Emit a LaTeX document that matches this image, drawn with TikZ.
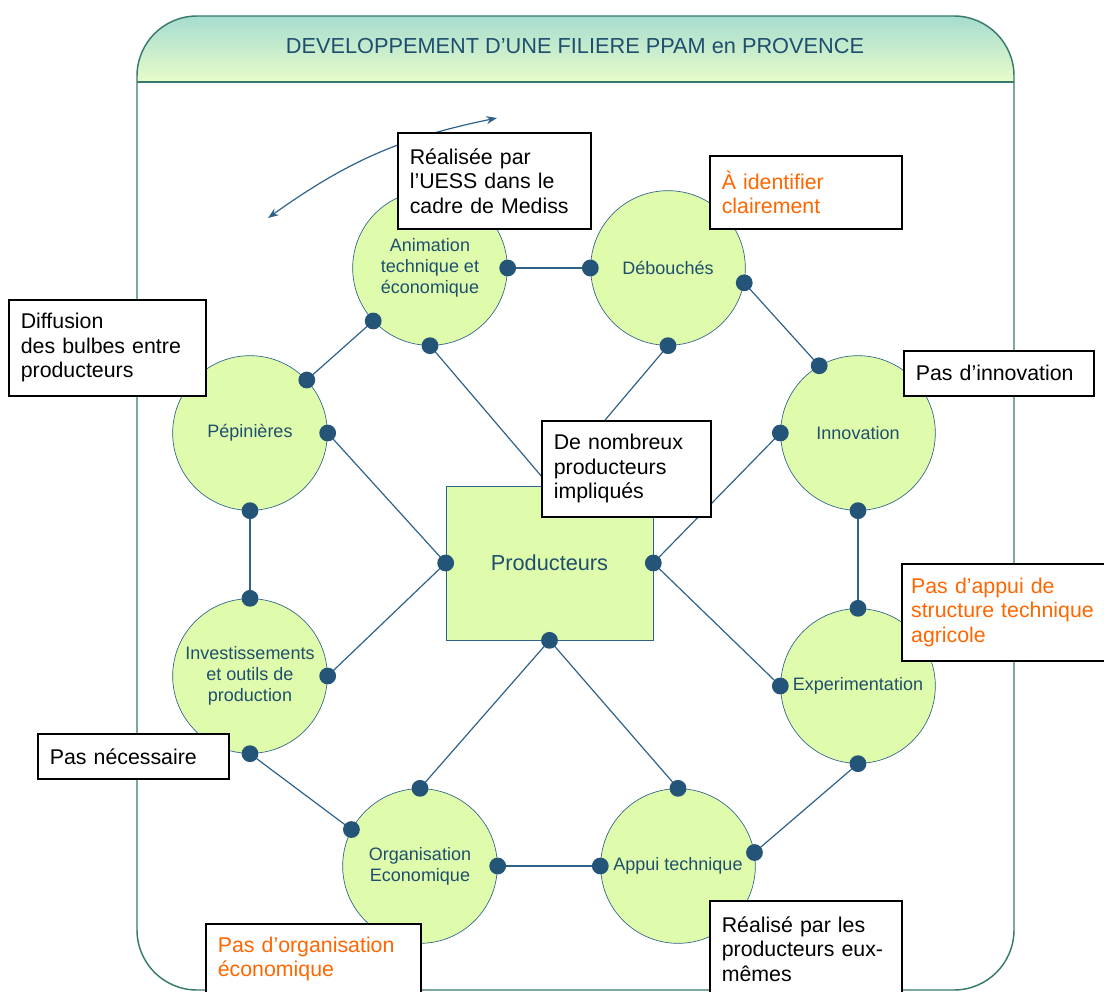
\documentclass[tikz,border=0pt]{standalone}
\usepackage{fontspec}
\setmainfont{Liberation Sans}
\usepackage{tikz}
\usetikzlibrary{arrows.meta,backgrounds,calc}
\definecolor{hdtop}{RGB}{166,220,208}
\definecolor{hdbot}{RGB}{232,252,202}
\definecolor{cadre}{RGB}{56,122,110}
\definecolor{vert}{RGB}{223,252,172}
\definecolor{bleu}{RGB}{36,84,120}
\definecolor{trait}{RGB}{46,98,138}
\definecolor{texte}{RGB}{31,78,110}
\definecolor{orangec}{RGB}{255,102,0}
\hyphenpenalty=10000

\begin{document}
\begin{tikzpicture}[x=0.75pt,y=-0.75pt,
  bulle/.style={circle,draw=trait,line width=0.5pt,fill=vert,minimum size=116pt,inner sep=0pt,
    align=center,text=texte,font=\fontsize{13.5}{15.8}\selectfont},
  lien/.style={draw=trait,line width=0.9pt},
  callout/.style={draw=black,line width=1.2pt,fill=white,anchor=north west,align=left,
    inner xsep=9pt,inner ysep=2pt,font=\fontsize{16}{18.4}\selectfont}]
\useasboundingbox (0,0) rectangle (1104,992);

% cadre et bandeau
\begin{scope}
\clip[rounded corners=45pt] (137,16) rectangle (1014,990);
\shade[top color=hdtop,bottom color=hdbot] (137,16) rectangle (1014,82);
\end{scope}
\draw[cadre,line width=1.1pt,rounded corners=45pt] (137,16) rectangle (1014,990);
\draw[cadre,line width=1.1pt] (137,82) -- (1014,82);
\node[text=texte,font=\fontsize{16.3}{19}\selectfont] (titre) at (575,46) {DEVELOPPEMENT D’UNE FILIERE PPAM en PROVENCE};

% bulles
\node[bulle] (anim) at (430,268) {Animation\\technique et\\économique};
\node[bulle] (debou) at (668,268) {Débouchés};
\node[bulle] (innov) at (858,433) {Innovation};
\node[bulle] (exper) at (858,686) {Experimentation};
\node[bulle] (appui) at (678,866) {Appui technique};
\node[bulle] (orga) at (420,866) {Organisation\\Economique};
\node[bulle] (invest) at (250,676) {Investissements\\et outils de\\production};
\node[bulle] (pepin) at (250,433) {Pépinières};
\node[draw=trait,line width=0.5pt,fill=vert,minimum width=155.25pt,minimum height=115.5pt,
  text=texte,font=\fontsize{16.3}{19}\selectfont] (prod) at (549.5,563) {Producteurs};

% liens
\draw[lien] (anim.0) -- (debou.180);
\draw[lien] (debou.349) -- (innov.120);
\draw[lien] (innov.270) -- (exper.90);
\draw[lien] (exper.270) -- (appui.10);
\draw[lien] (appui.180) -- (orga.0);
\draw[lien] (orga.152) -- (invest.270);
\draw[lien] (invest.90) -- (pepin.270);
\draw[lien] (pepin.43) -- (anim.223);
\draw[lien] (prod.west) -- (pepin.0);
\draw[lien] (prod.west) -- (invest.0);
\draw[lien] (prod.east) -- (innov.180);
\draw[lien] (prod.east) -- (exper.180);
\draw[lien] (prod.south) -- (orga.90);
\draw[lien] (prod.south) -- (appui.90);
\draw[lien] (anim.270) -- (prod.north);
\draw[lien] (debou.270) -- (prod.north);

\foreach \p in {anim.0,anim.223,anim.270,debou.180,debou.349,debou.270,
  innov.120,innov.180,innov.270,exper.90,exper.180,exper.270,
  appui.90,appui.180,appui.10,orga.90,orga.152,orga.0,
  invest.90,invest.0,invest.270,pepin.43,pepin.0,pepin.270,
  prod.west,prod.east,prod.south}
  \fill[bleu] (\p) circle (6.3pt);

% fleche
\coordinate (fl1) at (268,218);
\coordinate (fl2) at (497,118);
\draw[trait,line width=0.9pt,{Stealth[length=8pt,width=6pt]}-{Stealth[length=8pt,width=6pt]}] (fl1) to[bend left=12] (fl2);

% remarques
\node[callout,text width=126.75pt,minimum height=72pt] (reali) at (397,132) {Réalisée par\\l’UESS dans le\\cadre de Mediss};
\node[callout,text width=126pt,minimum height=54.75pt,text=orangec] (ident) at (709,155) {À identifier\\clairement};
\node[callout,text width=129.75pt,minimum height=72pt] (diffu) at (8,299) {Diffusion\\des bulbes entre\\producteurs};
\node[callout,text width=124.5pt,minimum height=33.75pt] (pasinno) at (903,350) {Pas d’innovation};
\node[callout,text width=108.75pt,minimum height=72pt] (nombr) at (541,420) {De nombreux\\producteurs\\impliqués};
\node[callout,inner xsep=7pt,text width=138.25pt,minimum height=72.75pt,text=orangec] (pasapp) at (901,563) {Pas d’appui de\\\mbox{structure technique}\\agricole};
\node[callout,text width=125.25pt,minimum height=33.75pt] (neces) at (37,733) {Pas nécessaire};
\node[callout,text width=143.25pt,minimum height=52.5pt,text=orangec] (pasorg) at (205,923) {Pas d’organisation\\économique};
\node[callout,text width=126pt,minimum height=72pt] (reals) at (709,900) {Réalisé par les\\producteurs eux-\\mêmes};
\end{tikzpicture}
\end{document}
